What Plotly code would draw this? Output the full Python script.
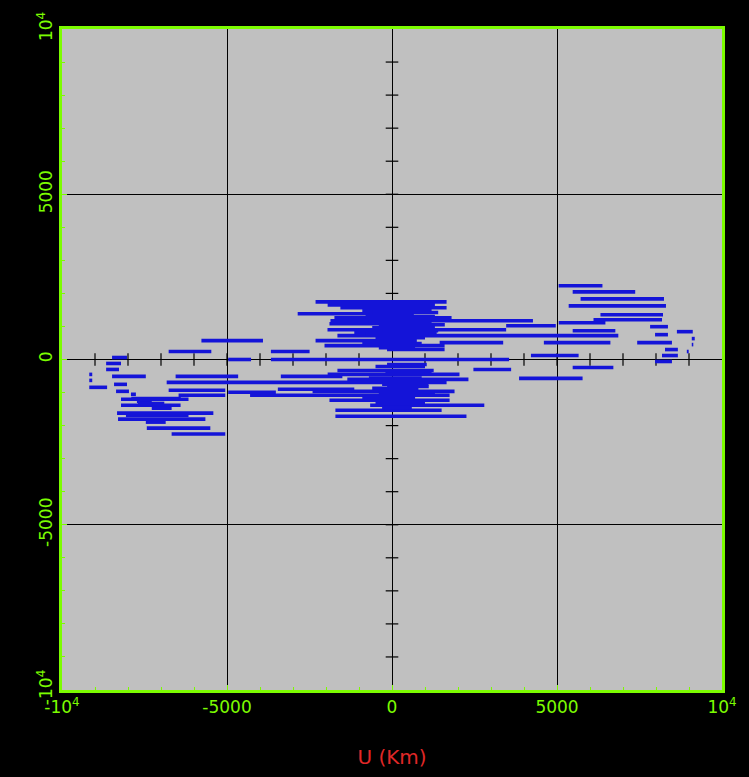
import plotly.graph_objects as go

# UV track segments: v (km), u start (km), u end (km)
seg_v = [2230, 2045, 1835, 1624, 1354, 1203, 1113, 993, 842, 872, 752, 632, 511, 451, 301, 241, 120, -60, -241, -572,
         1745, 1564, 1384, 1263, 1173, 1083, 1023, 902, 812, 722, 572, 572, 511, 511, 421, 301, 241, 241, 120, 0, 0,
         -150, -301, -331, -451, -511, -602, -692, -812, -902, -963, -993, -1083, -1233, -1384, -1534, -1715,
         60, -120, -301, -451, -511, -511, -632, -752, -842, -932, -963, -1053, -1083, -1203, -1263, -1384, -1474,
         -1624, -1685, -1805, -1895, -2076, -2256,
         1654, 1480, 1420, 1300, 1230, 1140, 1050, 960, 870, 780, 660, 480, 360,
         -210, -390, -560, -750, -870, -1030, -1170, -1300, -1450, -1180, -1330]
seg_u0 = [5050, 5475, 5715, 5354, 6317, 6106, 5053, 7821, 8633, 5475, 7971, 9084, 7430, 9084, 8272, 8934, 8182, 7971, 5475, 3850,
          -2316, -1564, -2858, -1745, -1865, -1895, 3459, -1955, -1143, -1654, -5775, -2316, 1444, 4602, -2045, -150, -3670, -6768, 4211, -3670, -4963,
          -150, 2467, -1654, -1950, -3369, -1354, -6828, -150, -3459, -2407, -4963, -4301, -1895, -662, -1715, -1715,
          -8483, -8663, -8663, -9174, -8483, -6557, -9174, -8423, -9174, -6768, -8362, -7911, -6467, -8212, -7730, -8212, -7280,
          -8332, -8062, -8302, -7460, -7430, -6678,
          -1950, -900, -600, -800, -500, -700, -400, -600, -300, -800, -500, -900, -400,
          -500, -200, -700, -300, -600, -400, -900, -500, -300, -7900, -7700]
seg_u1 = [6377, 7370, 8242, 8302, 8212, 8182, 6467, 8362, 9114, 6768, 8362, 9174, 8483, 9130, 8663, 8990, 8663, 8483, 6708, 5775,
          1654, 1654, 662, 1805, 4271, 1053, 4963, 3459, 1354, 6858, -3910, 752, 3369, 6618, 1594, 1594, -2497, -5475, 5655, 3549, -4271,
          1053, 3610, 1263, 2045, -1504, 2316, 1654, 1113, -1143, 1895, -3519, 1745, 1745, 2797, 1504, 2256,
          -8031, -8212, -8272, -9084, -7460, -4662, -9084, -8031, -8633, -5053, -7971, -7761, -5053, -6166, -7280, -6407, -6678,
          -5414, -6166, -5655, -6858, -5505, -5053,
          1300, 1200, 1400, 1300, 1500, 1200, 1600, 1300, 1400, 1100, 1000, 900, 700,
          1000, 1200, 900, 1100, 800, 1300, 700, 1000, 600, -6400, -6900]

# cross-hair tick marks along the zero axes (km)
axis_ticks = [-9000, -8000, -7000, -6000, -5000, -4000, -3000, -2000, -1000,
              1000, 2000, 3000, 4000, 5000, 6000, 7000, 8000, 9000]

tick_vals = [-10000, -5000, 0, 5000, 10000]
x_tick_text = ["-10<sup>4</sup>", "-5000", "0", "5000", "10<sup>4</sup>"]
y_tick_text = ["-10<sup>4</sup>", "-5000", "0", "5000", "10<sup>4</sup>"]

GREEN = "#7CFC00"
xs, ys = [], []
for v, a, b in zip(seg_v, seg_u0, seg_u1):
    xs += [a, b, None]
    ys += [v, v, None]

fig = go.Figure()
fig.add_trace(go.Scatter(x=axis_ticks, y=[0] * len(axis_ticks), mode="markers",
                         marker=dict(symbol="line-ns", size=9, line=dict(color="black", width=1.2)),
                         hoverinfo="skip", showlegend=False))
fig.add_trace(go.Scatter(x=[0] * len(axis_ticks), y=axis_ticks, mode="markers",
                         marker=dict(symbol="line-ew", size=9, line=dict(color="black", width=1.2)),
                         hoverinfo="skip", showlegend=False))
fig.add_trace(go.Scatter(x=xs, y=ys, mode="lines", line=dict(color="#1414d8", width=3.6),
                         showlegend=False))

axis_common = dict(range=[-10000, 10000], tickvals=tick_vals, showgrid=True, gridcolor="black", gridwidth=1,
                   zeroline=True, zerolinecolor="black", zerolinewidth=1,
                   showline=True, mirror=True, linecolor=GREEN, linewidth=3,
                   ticks="inside", ticklen=5, tickcolor=GREEN, tickwidth=1,
                   minor=dict(dtick=1000, ticks="inside", ticklen=3, tickcolor=GREEN, showgrid=False),
                   tickfont=dict(family="DejaVu Sans", size=17, color=GREEN))

fig.update_xaxes(**axis_common, ticktext=x_tick_text,
                 title=dict(text="U (Km)", font=dict(family="DejaVu Sans", size=20, color="#e02828"), standoff=34))
fig.update_yaxes(**axis_common, ticktext=y_tick_text, tickangle=-90)

fig.update_layout(width=749, height=777, paper_bgcolor="black", plot_bgcolor="#c0c0c0",
                  margin=dict(l=62, r=18, t=24, b=86), showlegend=False)

fig.write_html("out.html")
